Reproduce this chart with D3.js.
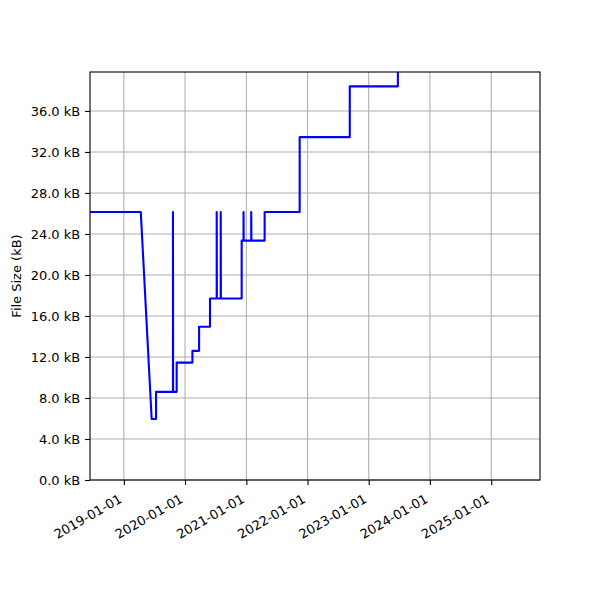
<!DOCTYPE html>
<html>
<head>
<meta charset="utf-8">
<script src="https://cdn.jsdelivr.net/npm/d3@7"></script>
<style>
  body { margin: 0; background: #fff; }
  text { font-family: "DejaVu Sans", sans-serif; }
</style>
</head>
<body>
<svg id="chart"></svg>
<script>
// DATA (file size history)
const dates = [
  "2018-03-01", "2019-04-12", "2019-06-16", "2019-07-12", "2019-07-12",
  "2019-10-21", "2019-10-21", "2019-10-22", "2019-11-12", "2019-11-12",
  "2020-02-14", "2020-02-14", "2020-03-25", "2020-03-25", "2020-05-29",
  "2020-05-29", "2020-07-08", "2020-07-08", "2020-07-09", "2020-08-01",
  "2020-08-01", "2020-08-02", "2020-12-04", "2020-12-04", "2020-12-15",
  "2020-12-15", "2020-12-16", "2021-01-30", "2021-01-30", "2021-01-31",
  "2021-04-20", "2021-04-20", "2021-11-15", "2021-11-15", "2022-09-10",
  "2022-09-10", "2023-06-24", "2023-06-24", "2026-01-01",
];
const sizes = [
  26.15, 26.15, 5.95, 5.95, 8.6,
  8.6, 26.15, 8.6, 8.6, 11.45,
  11.45, 12.6, 12.6, 14.95, 14.95,
  17.7, 17.7, 26.15, 17.7, 17.7,
  26.15, 17.7, 17.7, 23.35, 23.35,
  26.15, 23.35, 23.35, 26.15, 23.35,
  23.35, 26.15, 26.15, 33.45, 33.45,
  38.4, 38.4, 45, 45,
];
const xDomain = ["2018-06-13", "2025-10-19"];
const yDomain = [0, 39.8];
const yTicks = [0, 4, 8, 12, 16, 20, 24, 28, 32, 36];
const xTicks = ["2019-01-01", "2020-01-01", "2021-01-01", "2022-01-01",
  "2023-01-01", "2024-01-01", "2025-01-01"];

// DIMENSIONS
const dims = { width: 600, height: 600 };
const margin = { top: 72, right: 60, bottom: 120, left: 90 };
const innerW = dims.width - margin.left - margin.right;
const innerH = dims.height - margin.top - margin.bottom;

const parse = d3.utcParse("%Y-%m-%d");
const points = dates.map((d, i) => ({ date: parse(d), size: sizes[i] }));

const svg = d3.select("#chart")
  .attr("width", dims.width)
  .attr("height", dims.height);

// SCALES
const x = d3.scaleUtc().domain(xDomain.map(parse)).range([0, innerW]);
const y = d3.scaleLinear().domain(yDomain).range([innerH, 0]);

const g = svg.append("g")
  .attr("transform", `translate(${margin.left},${margin.top})`);

g.append("clipPath").attr("id", "clip")
  .append("rect").attr("width", innerW).attr("height", innerH);

// GRID
g.append("g")
  .selectAll("line")
  .data(xTicks.map(parse))
  .join("line")
  .attr("x1", (d) => x(d)).attr("x2", (d) => x(d))
  .attr("y1", 0).attr("y2", innerH)
  .attr("stroke", "#b0b0b0").attr("stroke-width", 1.1);

g.append("g")
  .selectAll("line")
  .data(yTicks)
  .join("line")
  .attr("x1", 0).attr("x2", innerW)
  .attr("y1", (d) => y(d)).attr("y2", (d) => y(d))
  .attr("stroke", "#b0b0b0").attr("stroke-width", 1.1);

// LINE
const line = d3.line().x((d) => x(d.date)).y((d) => y(d.size));
g.append("path")
  .datum(points)
  .attr("clip-path", "url(#clip)")
  .attr("fill", "none")
  .attr("stroke", "#0000ff")
  .attr("stroke-width", 2.1)
  .attr("stroke-linejoin", "round")
  .attr("d", line);

// AXES
const xAxis = g.append("g")
  .attr("transform", `translate(0,${innerH})`)
  .call(d3.axisBottom(x)
    .tickValues(xTicks.map(parse))
    .tickFormat(d3.utcFormat("%Y-%m-%d"))
    .tickSize(4.9).tickSizeOuter(0));

xAxis.selectAll("text")
  .attr("text-anchor", "end")
  .attr("dy", null)
  .attr("y", null)
  .attr("transform", "translate(-1.5,21.5) rotate(-30)");

const yAxis = g.append("g")
  .call(d3.axisLeft(y)
    .tickValues(yTicks)
    .tickFormat((d) => d3.format(".1f")(d) + " kB")
    .tickSize(4.9).tickSizeOuter(0).tickPadding(4.9));

[xAxis, yAxis].forEach((a) => {
  a.select(".domain").remove();
  a.selectAll(".tick line").attr("stroke", "#000").attr("stroke-width", 1.1);
  a.selectAll("text")
    .attr("fill", "#000")
    .style("font-family", "'DejaVu Sans', sans-serif")
    .style("font-size", "13px");
});

// FRAME
g.append("rect")
  .attr("width", innerW).attr("height", innerH)
  .attr("fill", "none").attr("stroke", "#000").attr("stroke-width", 1.1);

// Y LABEL
svg.append("text")
  .attr("transform", `translate(21,${margin.top + innerH / 2}) rotate(-90)`)
  .attr("text-anchor", "middle")
  .style("font-size", "13px")
  .text("File Size (kB)");
</script>
</body>
</html>
